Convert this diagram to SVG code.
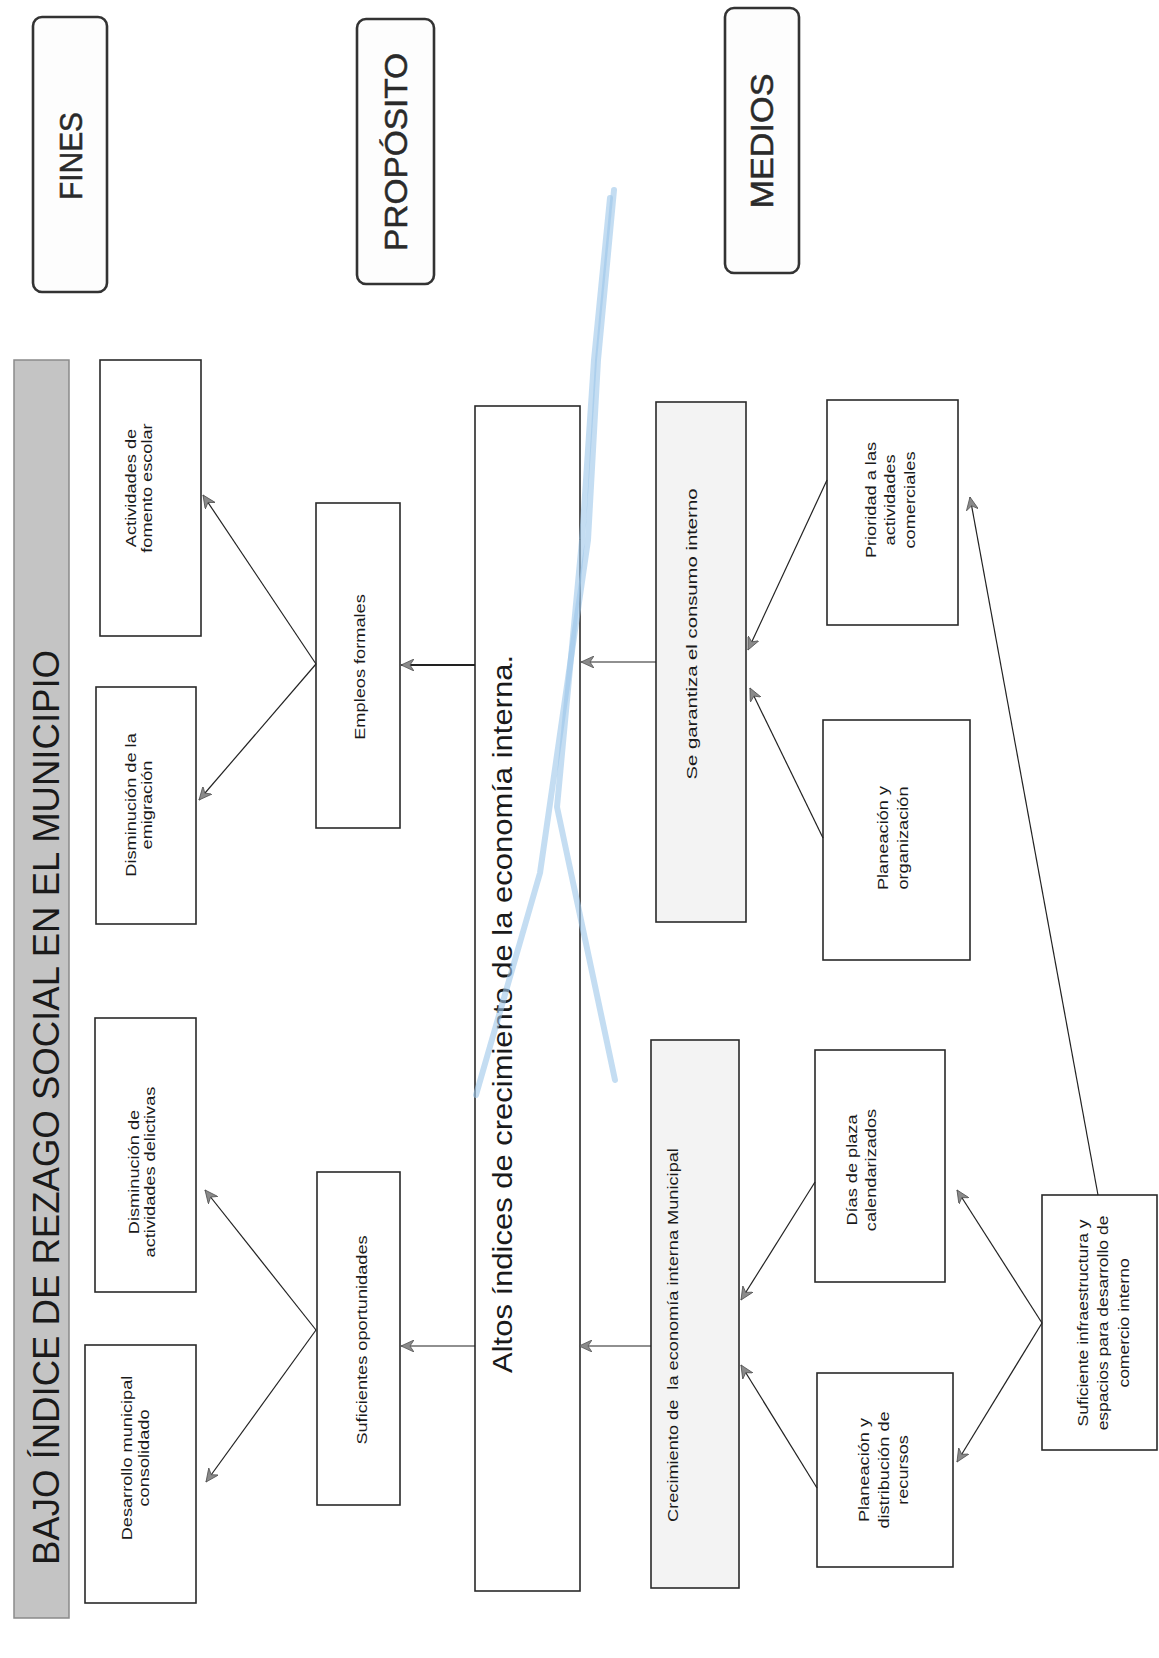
<svg xmlns="http://www.w3.org/2000/svg" width="1159" height="1658" viewBox="0 0 1159 1658">
<defs>
<marker id="ah" markerWidth="14" markerHeight="12" refX="13" refY="6" orient="auto" markerUnits="userSpaceOnUse">
<path d="M0,0 L13,6 L0,12 L4,6 Z" fill="#8a8a8a" stroke="#555" stroke-width="0.8"/>
</marker>
<style>
.bx{fill:#ffffff;stroke:#2a2a2a;stroke-width:1.6}
.gbx{fill:#f3f3f3;stroke:#2a2a2a;stroke-width:1.6}
.hd{fill:#fdfdfd;stroke:#333;stroke-width:2.6}
.ban{fill:#c4c4c4;stroke:#8a8a8a;stroke-width:1.5}
.c{fill:none;stroke:#222;stroke-width:1.2;marker-end:url(#ah)}
text{font-family:"Liberation Sans",Arial,sans-serif;fill:#1a1a1a}
.s{font-size:14px;text-anchor:middle}
.r{font-size:14px;text-anchor:middle}
.h{font-size:32px;text-anchor:middle;fill:#2a2a2a;stroke:#2a2a2a;stroke-width:0.5}
.blue{fill:none;stroke:#9cc6ea;stroke-width:6;stroke-linecap:round;stroke-linejoin:round;opacity:0.6}
</style>
</defs>
<rect width="1159" height="1658" fill="#ffffff"/>

<g id="header-fines"><rect class="hd" x="33" y="17" width="74" height="275" rx="9"/>
<text class="h" transform="translate(82,156) rotate(-90)" textLength="88" lengthAdjust="spacingAndGlyphs">FINES</text></g>
<g id="header-proposito"><rect class="hd" x="357" y="19" width="77" height="265" rx="9"/>
<text class="h" transform="translate(407,152) rotate(-90)" textLength="198" lengthAdjust="spacingAndGlyphs">PROPÓSITO</text></g>
<g id="header-medios"><rect class="hd" x="725" y="8" width="74" height="265" rx="9"/>
<text class="h" transform="translate(773,141) rotate(-90)" textLength="135" lengthAdjust="spacingAndGlyphs">MEDIOS</text></g>

<g id="banner"><rect class="ban" x="14" y="360" width="55" height="1258"/>
<text transform="translate(59,1565) rotate(-90)" font-size="37" fill="#333" textLength="915" lengthAdjust="spacingAndGlyphs">BAJO ÍNDICE DE REZAGO SOCIAL EN EL MUNICIPIO</text></g>

<g id="n-actividades"><rect class="bx" x="100" y="360" width="101" height="276"/>
<g transform="translate(136,488) rotate(-90) scale(1.3,1)"><text class="s" y="0">Actividades de</text><text class="s" y="16">fomento escolar</text></g></g>

<g id="n-emigracion"><rect class="bx" x="96" y="687" width="100" height="237"/>
<g transform="translate(136,805) rotate(-90) scale(1.3,1)"><text class="s" y="0">Disminución de la</text><text class="s" y="16">emigración</text></g></g>

<g id="n-delictivas"><rect class="bx" x="95" y="1018" width="101" height="274"/>
<g transform="translate(139,1172) rotate(-90) scale(1.3,1)"><text class="s" y="0">Disminución de</text><text class="s" y="16">actividades delictivas</text></g></g>

<g id="n-desarrollo"><rect class="bx" x="85" y="1345" width="111" height="258"/>
<g transform="translate(132,1458) rotate(-90) scale(1.3,1)"><text class="s" y="0">Desarrollo municipal</text><text class="s" y="17">consolidado</text></g></g>

<g id="n-empleos"><rect class="bx" x="316" y="503" width="84" height="325"/>
<g transform="translate(365,667) rotate(-90) scale(1.3,1)"><text class="s">Empleos formales</text></g></g>

<g id="n-suficientes"><rect class="bx" x="317" y="1172" width="83" height="333"/>
<g transform="translate(367,1340) rotate(-90) scale(1.3,1)"><text class="s">Suficientes oportunidades</text></g></g>

<g id="n-altos"><rect class="bx" x="475" y="406" width="105" height="1185"/>
<text transform="translate(512,1373) rotate(-90)" font-size="27" textLength="718" lengthAdjust="spacingAndGlyphs">Altos índices de crecimiento de la economía interna.</text></g>

<g id="n-garantiza"><rect class="gbx" x="656" y="402" width="90" height="520"/>
<g transform="translate(697,634) rotate(-90) scale(1.45,1)"><text class="s">Se garantiza el consumo interno</text></g></g>

<g id="n-crecimiento"><rect class="gbx" x="651" y="1040" width="88" height="548"/>
<g transform="translate(678,1522) rotate(-90) scale(1.3,1)"><text font-size="14">Crecimiento de&#160; la economía interna Municipal</text></g></g>

<g id="n-prioridad"><rect class="bx" x="827" y="400" width="131" height="225"/>
<g transform="translate(876,500) rotate(-90) scale(1.3,1)"><text class="r" y="0">Prioridad a las</text><text class="r" y="19">actividades</text><text class="r" y="39">comerciales</text></g></g>

<g id="n-planeacion-org"><rect class="bx" x="823" y="720" width="147" height="240"/>
<g transform="translate(888,838) rotate(-90) scale(1.3,1)"><text class="r" y="0">Planeación y</text><text class="r" y="20">organización</text></g></g>

<g id="n-dias"><rect class="bx" x="815" y="1050" width="130" height="232"/>
<g transform="translate(857,1170) rotate(-90) scale(1.3,1)"><text class="r" y="0">Días de plaza</text><text class="r" y="19">calendarizados</text></g></g>

<g id="n-planeacion-rec"><rect class="bx" x="817" y="1373" width="136" height="194"/>
<g transform="translate(869,1470) rotate(-90) scale(1.3,1)"><text class="r" y="0">Planeación y</text><text class="r" y="20">distribución de</text><text class="r" y="39">recursos</text></g></g>

<g id="n-infraestructura"><rect class="bx" x="1042" y="1195" width="115" height="255"/>
<g transform="translate(1088,1323) rotate(-90) scale(1.25,1)"><text class="r" y="0">Suficiente infraestructura y</text><text class="r" y="20">espacios para desarrollo de</text><text class="r" y="41">comercio interno</text></g></g>

<g id="blue-marks">
<path class="blue" d="M614,190 L598,360 L588,540 L540,873 L476,1095"/>
<path class="blue" d="M610,198 L594,360 L582,540 L557,807 L615,1080"/>
</g>

<g id="connectors">
<path class="c" d="M316,664 L203,495"/>
<path class="c" d="M316,664 L199,800"/>
<path class="c" d="M316,1330 L205,1190"/>
<path class="c" d="M316,1330 L206,1482"/>
<path class="c" d="M475,665 L401,665" style="stroke-width:2"/>
<path class="c" d="M475,1346 L401,1346"/>
<path class="c" d="M656,662 L581,662"/>
<path class="c" d="M651,1346 L579,1346"/>
<path class="c" d="M827,480 L748,650"/>
<path class="c" d="M823,838 L750,688"/>
<path class="c" d="M815,1182 L741,1300"/>
<path class="c" d="M817,1488 L741,1365"/>
<path class="c" d="M1042,1323 L957,1190"/>
<path class="c" d="M1042,1323 L957,1462"/>
<path class="c" d="M1098,1195 L970,497"/>
</g>
</svg>
